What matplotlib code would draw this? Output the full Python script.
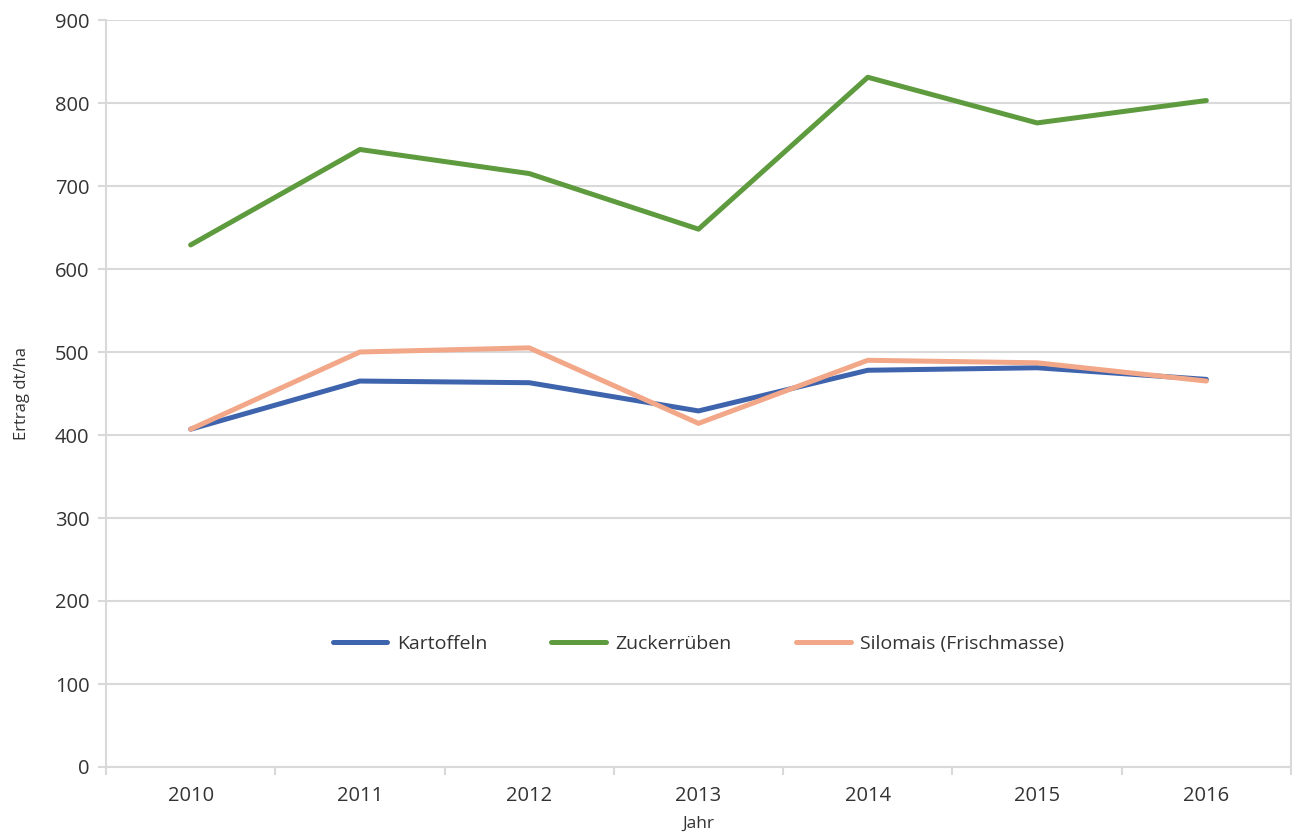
import numpy as np
import matplotlib.pyplot as plt

# Daten
jahre = ["2010", "2011", "2012", "2013", "2014", "2015", "2016"]
kartoffeln = [407, 465, 463, 429, 478, 481, 467]
zuckerrueben = [629, 744, 715, 648, 831, 776, 803]
silomais = [407, 500, 505, 414, 490, 487, 465]

plt.rcParams['font.family'] = ['Open Sans', 'DejaVu Sans']

fig = plt.figure(figsize=(12.92, 8.34), dpi=100)
ax = fig.add_axes([106 / 1292, 1 - 767 / 834, 1 - 107 / 1292, (767 - 20) / 834])

x = np.arange(len(jahre))
ax.plot(x, kartoffeln, color='#3F64AE', lw=3.6, solid_capstyle='round', label='Kartoffeln')
ax.plot(x, zuckerrueben, color='#5E9B3E', lw=3.6, solid_capstyle='round', label='Zuckerrüben')
ax.plot(x, silomais, color='#F2A788', lw=3.6, solid_capstyle='round', label='Silomais (Frischmasse)')

ax.set_xlim(-0.5, len(jahre) - 0.5)
ax.set_ylim(0, 900)
ax.set_yticks(np.arange(0, 901, 100))
ax.set_xticks(x)
ax.set_xticklabels(jahre)
ax.set_xticks(np.arange(-0.5, len(jahre), 1), minor=True)

ax.grid(axis='y', color='#D9D9D9', lw=1.5)
ax.set_axisbelow(True)
for s in ['left', 'bottom', 'right']:
    ax.spines[s].set_color('#D9D9D9')
    ax.spines[s].set_linewidth(1.5)
ax.spines['top'].set_visible(False)

ax.tick_params(axis='x', which='major', length=0, pad=14, labelsize=14.5, labelcolor='#333333')
ax.tick_params(axis='x', which='minor', length=6, width=1.5, color='#D9D9D9', direction='out')
ax.tick_params(axis='y', length=6, width=1.5, color='#D9D9D9', labelsize=14.5, labelcolor='#333333', pad=6)

ax.set_xlabel('Jahr', fontsize=12.5, color='#333333', labelpad=7)
ax.set_ylabel('Ertrag dt/ha', fontsize=12, color='#333333', labelpad=18)

ax.legend(loc='center', bbox_to_anchor=(0.5, 148 / 900), ncol=3, frameon=False,
          fontsize=14, handlelength=2.8, columnspacing=3.3, handletextpad=0.5,
          labelcolor='#333333')

fig.savefig('out.png', dpi=100)
